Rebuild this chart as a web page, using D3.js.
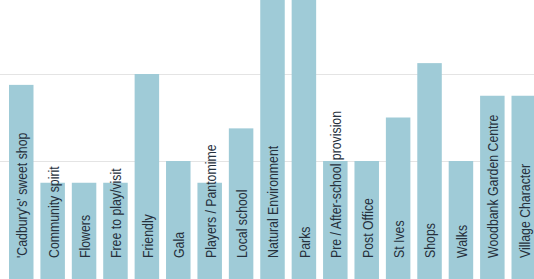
<!DOCTYPE html>
<html>
<head>
<meta charset="utf-8">
<script src="https://cdn.jsdelivr.net/npm/d3@7"></script>
<style>
  body { margin: 0; background: #fff; }
  svg { display: block; overflow: hidden; }
</style>
</head>
<body>
<div id="Chart"></div>
<script>
var svgWidth = 534;
var svgHeight = 279;

// categories and counts
var categories = ["'Cadbury's' sweet shop", "Community spirit", "Flowers", "Free to play/visit",
  "Friendly", "Gala", "Players / Pantomime", "Local school", "Natural Environment", "Parks",
  "Pre / After-school provision", "Post Office", "St Ives", "Shops", "Walks",
  "Woodbank Garden Centre", "Village Character"];
var counts = [23, 14, 14, 14, 24, 16, 14, 19, 32, 32, 16, 16, 20, 25, 16, 22, 22];
var gridValues = [16, 24];

var data = categories.map(function (c, i) { return { name: c, value: counts[i] }; });

var svg = d3.select("#Chart")
  .append("svg")
  .attr("width", svgWidth)
  .attr("height", svgHeight);

// baseline sits below the visible area (chart is cropped)
var xBandScale = d3.scaleBand()
  .domain(categories)
  .range([9, 536])
  .paddingInner(0.22)
  .paddingOuter(0);

var yLinearScale = d3.scaleLinear()
  .domain([0, 24])
  .range([335, 74]);

svg.append("g")
  .selectAll("line")
  .data(gridValues)
  .enter()
  .append("line")
  .attr("x1", 0)
  .attr("x2", svgWidth)
  .attr("y1", d => yLinearScale(d) + 0.5)
  .attr("y2", d => yLinearScale(d) + 0.5)
  .attr("stroke", "#e4e4e4")
  .attr("stroke-width", 1);

svg.append("g")
  .selectAll("rect")
  .data(data)
  .enter()
  .append("rect")
  .attr("x", d => xBandScale(d.name))
  .attr("y", d => yLinearScale(d.value))
  .attr("width", xBandScale.bandwidth())
  .attr("height", d => yLinearScale(0) - yLinearScale(d.value))
  .attr("fill", "#9fcbd7");

// labels squeezed along their length to mimic a narrow face
svg.append("g")
  .selectAll("text")
  .data(data)
  .enter()
  .append("text")
  .attr("transform", d => `translate(${xBandScale(d.name) + xBandScale.bandwidth() / 2 + 1}, 258) rotate(-90) scale(0.88, 1)`)
  .attr("dy", "0.35em")
  .attr("text-anchor", "start")
  .attr("font-family", "'Liberation Sans', Arial, sans-serif")
  .attr("font-size", "14px")
  .attr("fill", "#26303c")
  .text(d => d.name);
</script>
</body>
</html>
